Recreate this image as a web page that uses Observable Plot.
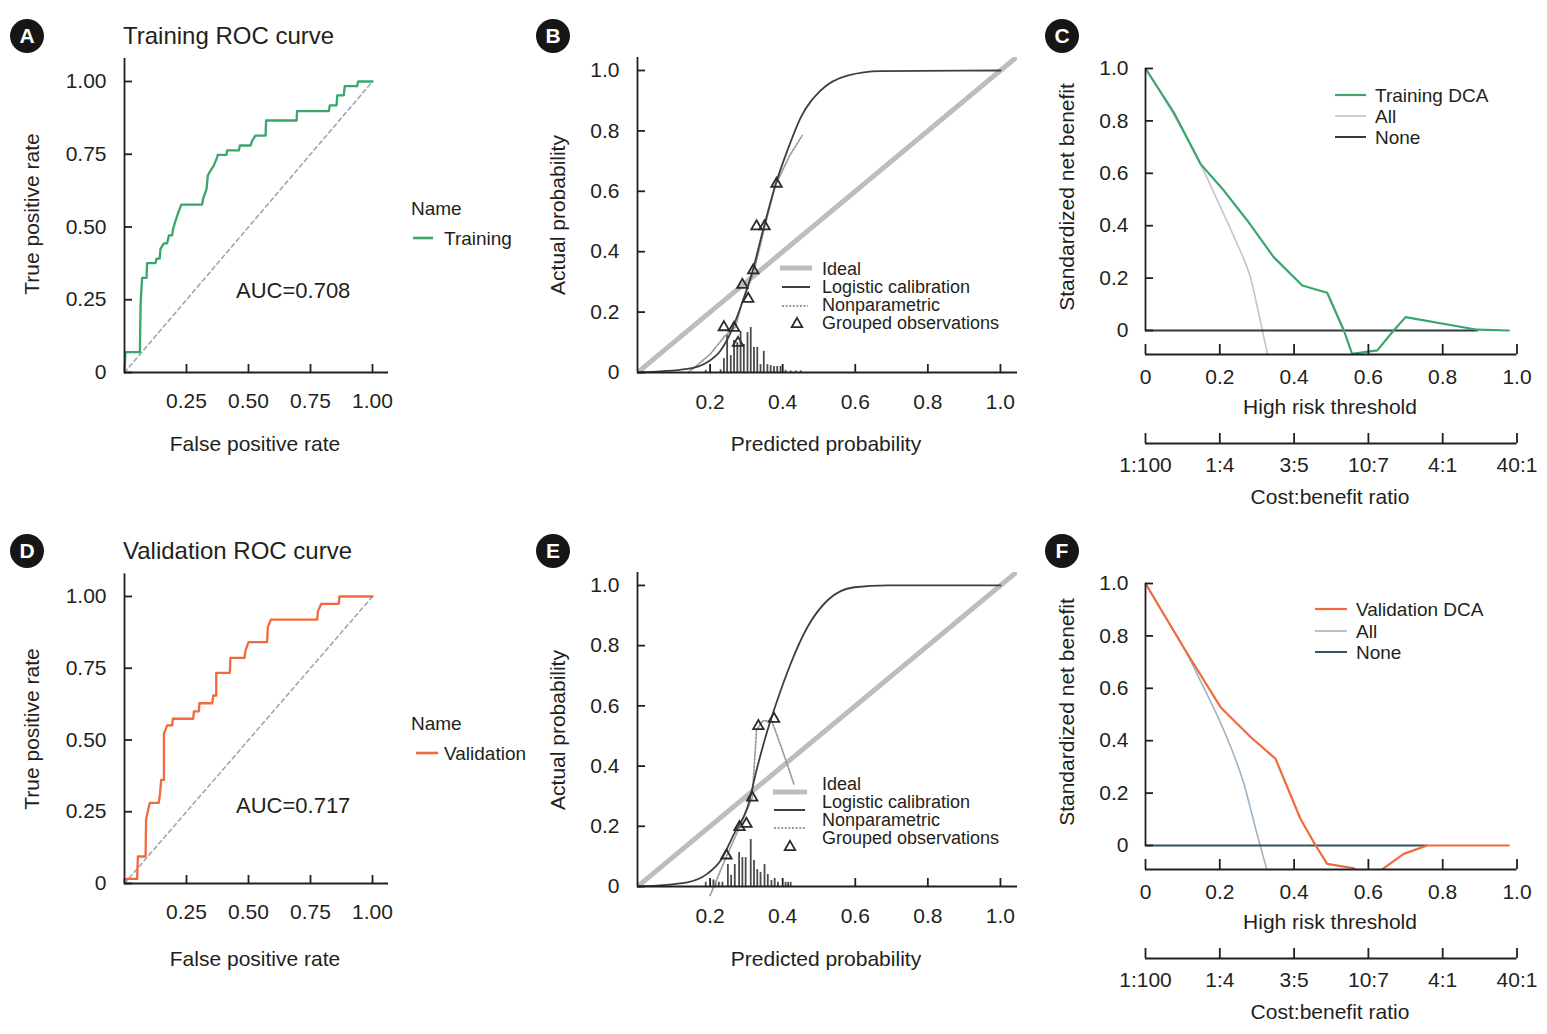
<!DOCTYPE html>
<html><head><meta charset="utf-8">
<script src="https://cdn.jsdelivr.net/npm/d3@7"></script>
<script src="https://cdn.jsdelivr.net/npm/@observablehq/plot@0.6"></script>
<style>
body{margin:0;background:#fff;}
#page{position:relative;width:1547px;height:1034px;font-family:"Liberation Sans",Arial,Helvetica,sans-serif;color:#231f20;overflow:hidden;background:#fff;}
.t{position:absolute;white-space:nowrap;line-height:1;}
.badge{position:absolute;width:34px;height:34px;margin:-17px 0 0 -17px;border-radius:50%;background:#161616;color:#fff;font-weight:bold;font-size:21px;display:flex;align-items:center;justify-content:center;}
</style></head><body><div id="page"></div>
<script>
// ---------------- DATA ----------------
const green = "#3aa66c", orange = "#f06a3c";

// ROC curves (false positive rate / true positive rate)
const trainFPR = [0,0.004,0.062,0.065,0.071,0.089,0.091,0.125,0.129,0.142,0.145,0.159,0.172,0.179,0.192,0.196,0.206,0.215,0.229,0.313,0.317,0.331,0.336,0.347,0.36,0.374,0.376,0.411,0.414,0.461,0.465,0.508,0.515,0.528,0.569,0.571,0.694,0.696,0.824,0.828,0.855,0.858,0.884,0.888,0.938,0.942,1.0];
const trainTPR = [0,0.07,0.07,0.238,0.325,0.325,0.376,0.376,0.391,0.391,0.425,0.444,0.444,0.471,0.471,0.494,0.522,0.545,0.577,0.577,0.597,0.631,0.677,0.694,0.711,0.740,0.748,0.748,0.763,0.763,0.780,0.780,0.797,0.814,0.814,0.866,0.866,0.898,0.898,0.918,0.918,0.952,0.952,0.984,0.984,1.0,1.0];
const validFPR = [0,0,0.051,0.054,0.085,0.087,0.102,0.138,0.143,0.148,0.159,0.159,0.172,0.192,0.195,0.277,0.280,0.300,0.302,0.354,0.358,0.370,0.370,0.425,0.427,0.484,0.488,0.500,0.575,0.578,0.590,0.777,0.780,0.793,0.864,0.867,1.0];
const validTPR = [0,0.016,0.016,0.094,0.094,0.225,0.281,0.281,0.310,0.361,0.361,0.522,0.551,0.551,0.574,0.574,0.600,0.600,0.628,0.628,0.655,0.655,0.734,0.734,0.786,0.786,0.812,0.841,0.841,0.893,0.919,0.919,0.949,0.974,0.974,1.0,1.0];
const rocDiag = [0, 1];
const rocTicksY = [0, 0.25, 0.5, 0.75, 1];
const rocTicksX = [0.25, 0.5, 0.75, 1];
const aucTrain = "AUC=0.708", aucValid = "AUC=0.717";

// Calibration (training)
const calTrainLogX = [0,0.137,0.192,0.229,0.257,0.284,0.316,0.348,0.381,0.413,0.45,0.505,0.578,0.670,1.0];
const calTrainLogY = [0,0.012,0.034,0.073,0.133,0.216,0.332,0.481,0.625,0.735,0.845,0.934,0.983,0.998,1.0];
const calTrainNpX = [0.14,0.20,0.24,0.27,0.29,0.32,0.35,0.38,0.42,0.454];
const calTrainNpY = [0.0,0.06,0.12,0.15,0.24,0.33,0.48,0.62,0.72,0.785];
const calTrainObsX = [0.238,0.266,0.277,0.289,0.305,0.319,0.328,0.350,0.383];
const calTrainObsY = [0.150,0.148,0.098,0.290,0.244,0.338,0.484,0.484,0.625];
const calTrainHistX = [0.188,0.229,0.238,0.247,0.257,0.266,0.275,0.284,0.293,0.303,0.312,0.321,0.330,0.339,0.348,0.358,0.367,0.376,0.385,0.394,0.408,0.422,0.436,0.450];
const calTrainHistH = [0.007,0.009,0.046,0.123,0.056,0.106,0.099,0.136,0.093,0.132,0.149,0.083,0.083,0.026,0.07,0.026,0.023,0.02,0.02,0.02,0.007,0.005,0.005,0.005];
// Calibration (validation)
const calValidLogX = [0,0.137,0.192,0.229,0.266,0.303,0.330,0.358,0.385,0.422,0.468,0.523,0.597,0.689,1.0];
const calValidLogY = [0,0.014,0.042,0.086,0.175,0.263,0.396,0.518,0.618,0.740,0.861,0.95,0.994,1.0,1.0];
const calValidNpX = [0.20,0.245,0.281,0.316,0.328,0.345,0.37,0.40,0.431];
const calValidNpY = [-0.03,0.10,0.197,0.295,0.52,0.55,0.55,0.45,0.34];
const calValidObsX = [0.245,0.281,0.300,0.316,0.333,0.376];
const calValidObsY = [0.103,0.197,0.208,0.295,0.533,0.557];
const calValidHistX = [0.188,0.209,0.215,0.224,0.234,0.249,0.258,0.268,0.280,0.289,0.298,0.312,0.321,0.330,0.339,0.350,0.359,0.369,0.378,0.387,0.408,0.415,0.422];
const calValidHistH = [0.014,0.022,0.017,0.014,0.014,0.073,0.037,0.073,0.113,0.096,0.096,0.156,0.086,0.056,0.047,0.073,0.04,0.02,0.027,0.014,0.014,0.014,0.014];
const idealDiag = [0, 1.06];
const calTicksY = [0, 0.2, 0.4, 0.6, 0.8, 1.0];
const calTicksX = [0.2, 0.4, 0.6, 0.8, 1.0];

// Decision curves (standardized net benefit vs threshold)
const dcaTrainT  = [0,0.076,0.148,0.211,0.274,0.345,0.422,0.489,0.534,0.556,0.624,0.668,0.700,0.893,0.978];
const dcaTrainNB = [1.0,0.833,0.636,0.534,0.420,0.280,0.172,0.144,0.0,-0.089,-0.076,0.0,0.051,0.003,0.0];
const dcaTrainAllT  = [0,0.05,0.10,0.148,0.202,0.25,0.283,0.31,0.33];
const dcaTrainAllNB = [1.0,0.885,0.765,0.636,0.47,0.32,0.20,0.03,-0.10];
const dcaTrainNoneT = [0,0.893], dcaTrainNoneNB = [0,0];
const dcaValidT  = [0,0.103,0.202,0.283,0.35,0.417,0.458,0.489,0.561,0.60,0.641,0.695,0.758,0.978];
const dcaValidNB = [1.0,0.755,0.528,0.414,0.331,0.102,0.0,-0.07,-0.087,-0.13,-0.087,-0.032,0.0,0.0];
const dcaValidAllT  = [0,0.05,0.103,0.148,0.211,0.265,0.30,0.33];
const dcaValidAllNB = [1.0,0.88,0.755,0.628,0.439,0.235,0.045,-0.11];
const dcaValidNoneT = [0,0.758], dcaValidNoneNB = [0,0];
const dcaTicks = [0, 0.2, 0.4, 0.6, 0.8, 1.0];
const costLabels = ["1:100","1:4","3:5","10:7","4:1","40:1"];
const dcaYMin = -0.0916;

// ---------------- HELPERS ----------------
const page = document.getElementById("page");
const zip = (xs, ys) => xs.map((x, i) => ({x, y: ys[i]}));
const fmt1 = d => d === 0 ? "0" : d.toFixed(1);
const fmt2 = d => d === 0 ? "0" : d.toFixed(2);
const ink = "#231f20";
const baseStyle = {fontFamily: "'Liberation Sans', Arial, Helvetica, sans-serif", fontSize: "21px", color: ink, background: "transparent", overflow: "visible"};

function place(svg, L, T) {
  svg.style.position = "absolute"; svg.style.left = L + "px"; svg.style.top = T + "px";
  page.appendChild(svg);
}
function panel({L, T, W, H, fx0, fx1, fy0, fy1, xDomain, yDomain, marks}) {
  const svg = Plot.plot({
    width: W, height: H,
    marginLeft: fx0 - L, marginRight: L + W - fx1, marginTop: fy0 - T, marginBottom: T + H - fy1,
    x: {domain: xDomain}, y: {domain: yDomain},
    style: baseStyle,
    marks
  });
  place(svg, L, T);
}
function text(str, x, y, {size = 21, anchor = "start", rotate = false, weight = "normal"} = {}) {
  const d = document.createElement("div");
  d.className = "t"; d.textContent = str;
  d.style.left = x + "px"; d.style.top = y + "px";
  d.style.fontSize = size + "px"; d.style.fontWeight = weight;
  let tr = anchor === "middle" ? "translate(-50%,-50%)" : "translate(0,-50%)";
  if (rotate) tr = "translate(-50%,-50%) rotate(-90deg)";
  d.style.transform = tr;
  page.appendChild(d);
}
function badge(letter, x, y) {
  const d = document.createElement("div");
  d.className = "badge"; d.textContent = letter;
  d.style.left = x + "px"; d.style.top = y + "px";
  page.appendChild(d);
}

// ---------------- ROC PANELS ----------------
function rocPanel(T, fy0, fy1, fpr, tpr, color) {
  panel({
    L: 0, T, W: 400, H: 480, fx0: 124, fx1: 388, fy0, fy1,
    xDomain: [0, 1.0645], yDomain: [0, 1.079],
    marks: [
      Plot.line(rocDiag, {x: d => d, y: d => d, stroke: "#9ba7b3", strokeWidth: 1.6, strokeDasharray: "4,3.5"}),
      Plot.line(zip(fpr, tpr), {x: "x", y: "y", stroke: color, strokeWidth: 2.3}),
      Plot.ruleX([0], {stroke: ink, strokeWidth: 1.8}),
      Plot.ruleY([0], {stroke: ink, strokeWidth: 1.8}),
      Plot.axisY(rocTicksY, {tickFormat: fmt2, tickSize: -8, tickPadding: 26, strokeWidth: 1.8, label: null, fontSize: 21}),
      Plot.axisX(rocTicksX, {tickFormat: d => d.toFixed(2), tickSize: -8, tickPadding: 29, strokeWidth: 1.8, label: null, fontSize: 21})
    ]
  });
}
rocPanel(0, 58, 372, trainFPR, trainTPR, green);
rocPanel(515, 573.3, 883, validFPR, validTPR, orange);

// ---------------- CALIBRATION PANELS ----------------
function calPanel(T, fy0, fy1, yMax, logX, logY, npX, npY, obsX, obsY, hX, hH) {
  panel({
    L: 520, T, W: 520, H: 480, fx0: 637, fx1: 1017, fy0, fy1,
    xDomain: [0, 1.047], yDomain: [0, yMax],
    marks: [
      Plot.line(idealDiag, {x: d => d, y: d => d, stroke: "#bdbdbd", strokeWidth: 5, clip: true}),
      Plot.ruleX(zip(hX, hH), {x: "x", y1: 0, y2: "y", stroke: "#4a4a4a", strokeWidth: 1.8}),
      Plot.line(zip(npX, npY), {x: "x", y: "y", stroke: "#9a9a9a", strokeWidth: 1.7, strokeDasharray: "2,1.6"}),
      Plot.line(zip(logX, logY), {x: "x", y: "y", stroke: "#384046", strokeWidth: 1.8, curve: "monotone-x"}),
      Plot.dot(zip(obsX, obsY), {x: "x", y: "y", symbol: "triangle", r: 3.9, stroke: "#2b2b2b", strokeWidth: 1.8, fill: "none"}),
      Plot.ruleX([0], {stroke: ink, strokeWidth: 1.8}),
      Plot.ruleY([0], {stroke: ink, strokeWidth: 1.8}),
      Plot.axisY(calTicksY, {tickFormat: fmt1, tickSize: -8, tickPadding: 26, strokeWidth: 1.8, label: null, fontSize: 21}),
      Plot.axisX(calTicksX, {tickFormat: d => d.toFixed(1), tickSize: -8, tickPadding: 30, strokeWidth: 1.8, label: null, fontSize: 21})
    ]
  });
}
calPanel(0, 57, 372, 1.043, calTrainLogX, calTrainLogY, calTrainNpX, calTrainNpY, calTrainObsX, calTrainObsY, calTrainHistX, calTrainHistH);
calPanel(515, 572, 886, 1.043, calValidLogX, calValidLogY, calValidNpX, calValidNpY, calValidObsX, calValidObsY, calValidHistX, calValidHistH);

// ---------------- DCA PANELS ----------------
function dcaPanel(T, fy1, t, nb, allT, allNB, noneT, noneNB, color, allColor, noneColor) {
  const fy0 = fy1 - (1.01 - dcaYMin) * 262;
  panel({
    L: 1040, T, W: 507, H: 520, fx0: 1145, fx1: 1516.5, fy0, fy1,
    xDomain: [0, 1], yDomain: [dcaYMin, 1.01],
    marks: [
      Plot.line(zip(allT, allNB), {x: "x", y: "y", stroke: allColor, strokeWidth: 1.6, clip: true, curve: "monotone-x"}),
      Plot.line(zip(noneT, noneNB), {x: "x", y: "y", stroke: noneColor, strokeWidth: 2}),
      Plot.line(zip(t, nb), {x: "x", y: "y", stroke: color, strokeWidth: 2.2, clip: true}),
      Plot.ruleX([0], {y1: 0, y2: 1, stroke: ink, strokeWidth: 1.8}),
      Plot.ruleY([dcaYMin], {x1: 0, x2: 1, stroke: ink, strokeWidth: 1.8}),
      Plot.ruleY([dcaYMin], {x1: 0, x2: 1, dy: 89, stroke: ink, strokeWidth: 1.8}),
      Plot.axisY(dcaTicks, {tickFormat: fmt1, tickSize: -8, tickPadding: 25, strokeWidth: 1.8, label: null, fontSize: 21}),
      Plot.axisX(dcaTicks, {tickFormat: fmt1, tickSize: -10, tickPadding: 25, strokeWidth: 1.8, label: null, fontSize: 21}),
      Plot.axisX(dcaTicks, {tickFormat: (d, i) => costLabels[i], tickSize: -10, tickPadding: 24, dy: 89, strokeWidth: 1.8, label: null, fontSize: 21})
    ]
  });
}
dcaPanel(0, 354, dcaTrainT, dcaTrainNB, dcaTrainAllT, dcaTrainAllNB, dcaTrainNoneT, dcaTrainNoneNB, green, "#c4c4cc", "#2f3b3f");
dcaPanel(515, 869, dcaValidT, dcaValidNB, dcaValidAllT, dcaValidAllNB, dcaValidNoneT, dcaValidNoneNB, orange, "#9fb3c3", "#2e5560");

// ---------------- TEXT ----------------
for (const [dy, title, auc, name] of [[0, "Training ROC curve", aucTrain, "Training"], [515, "Validation ROC curve", aucValid, "Validation"]]) {
  text(title, 123, 36 + dy, {size: 24});
  text("True positive rate", 31, 214 + dy, {rotate: true});
  text("False positive rate", 255, 443 + dy, {anchor: "middle"});
  text(auc, 236, 291 + dy, {size: 22});
  text("Name", 411, 208 + dy, {size: 19});
  text(name, 444, 238 + dy, {size: 19});
  text("Actual probability", 557, 215 + dy, {rotate: true});
  text("Predicted probability", 826, 443 + dy, {anchor: "middle"});
  text("Standardized net benefit", 1066, 197 + dy, {rotate: true});
  text("High risk threshold", 1330, 406 + dy, {anchor: "middle"});
  text("Cost:benefit ratio", 1330, 496 + dy, {anchor: "middle"});
}
const calLegend = ["Ideal", "Logistic calibration", "Nonparametric", "Grouped observations"];
[269, 287, 305, 323].forEach((y, i) => text(calLegend[i], 822, y, {size: 18}));
[784, 802, 820, 838].forEach((y, i) => text(calLegend[i], 822, y, {size: 18}));
[["Training DCA", 95], ["All", 116], ["None", 137]].forEach(([s, y]) => text(s, 1375, y, {size: 19}));
[["Validation DCA", 609], ["All", 631], ["None", 652]].forEach(([s, y]) => text(s, 1356, y, {size: 19}));

[["A", 27, 36], ["B", 553, 36], ["C", 1062, 36], ["D", 27, 551], ["E", 553, 551], ["F", 1062, 551]].forEach(([l, x, y]) => badge(l, x, y));

// ---------------- LEGEND SWATCHES ----------------
const ov = d3.select(page).append("svg").attr("width", 1547).attr("height", 1034)
  .style("position", "absolute").style("left", "0px").style("top", "0px").style("pointer-events", "none");
function sw(x1, x2, y, stroke, w, dash) {
  const l = ov.append("line").attr("x1", x1).attr("x2", x2).attr("y1", y).attr("y2", y).attr("stroke", stroke).attr("stroke-width", w);
  if (dash) l.attr("stroke-dasharray", dash);
}
function tri(x, y) {
  ov.append("path").attr("d", d3.symbol(d3.symbolTriangle, 48)()).attr("transform", `translate(${x},${y})`)
    .attr("fill", "none").attr("stroke", "#2b2b2b").attr("stroke-width", 1.8);
}
sw(413, 433, 238, green, 2.6);
sw(416, 438, 753, orange, 2.6);
sw(780, 812, 268, "#bdbdbd", 5); sw(782, 810, 287, "#384046", 2); sw(782, 808, 306, "#9a9a9a", 1.8, "2,1.6"); tri(797, 324);
sw(773, 807, 792, "#bdbdbd", 5); sw(774, 805, 810, "#384046", 2); sw(774, 805, 828, "#9a9a9a", 1.8, "2,1.6"); tri(790, 847);
sw(1335, 1366, 95, green, 2.2); sw(1335, 1366, 116, "#c4c4cc", 1.6); sw(1335, 1366, 137, "#2f3b3f", 2);
sw(1315, 1347, 609, orange, 2.2); sw(1315, 1347, 631, "#9fb3c3", 1.6); sw(1315, 1347, 652, "#2e5560", 2);
</script></body></html>
